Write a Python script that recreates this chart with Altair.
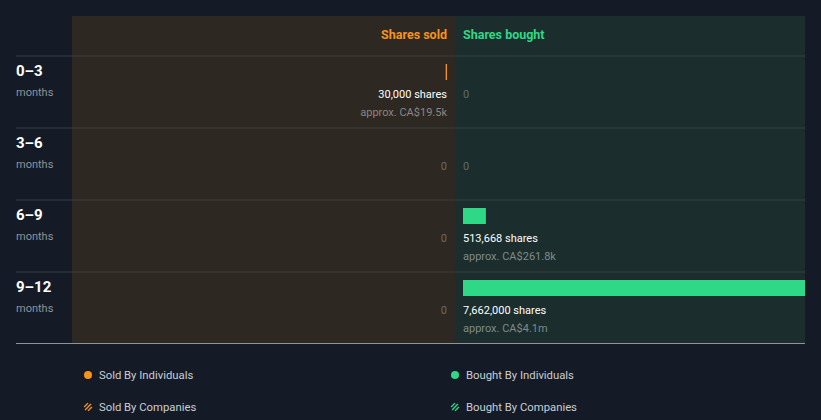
import altair as alt
import pandas as pd

periods = ["0–3", "3–6", "6–9", "9–12"]
sold_shares = [30000, 0, 0, 0]
bought_shares = [0, 0, 513668, 7662000]
sold_labels = ["30,000 shares", "", "", ""]
sold_approx = ["approx. CA$19.5k", "", "", ""]
bought_labels = ["", "", "513,668 shares", "7,662,000 shares"]
bought_approx = ["", "", "approx. CA$261.8k", "approx. CA$4.1m"]

legend_labels = ["Sold By Individuals", "Bought By Individuals", "Sold By Companies", "Bought By Companies"]
legend_side = ["sold", "bought", "sold", "bought"]
legend_kind = ["Individuals", "Individuals", "Companies", "Companies"]

ORANGE = "#f7931a"
GREEN = "#2ed886"
BG = "#151b26"
FONT = "Roboto"

df = pd.DataFrame({
    "period": periods,
    "sold": sold_shares,
    "bought": bought_shares,
    "sold_label": sold_labels,
    "sold_approx": sold_approx,
    "bought_label": bought_labels,
    "bought_approx": bought_approx,
})
leg = pd.DataFrame({"label": legend_labels, "side": legend_side, "kind": legend_kind})

MAXV = 7662000
sold_x = alt.Scale(domain=[0, MAXV], range=[447, 105])
bought_x = alt.Scale(domain=[0, MAXV], range=[463, 805])
py = alt.Scale(domain=periods, range=[56, 344], paddingInner=0, paddingOuter=0)
Y = alt.Y("period:N", scale=py, axis=None)

base = alt.Chart(df)

panel_sold = base.mark_rect(color="#2d2822").encode(
    x=alt.value(72), x2=alt.value(455), y=alt.value(16), y2=alt.value(344))
panel_bought = base.mark_rect(color="#1b2e2d").encode(
    x=alt.value(455), x2=alt.value(805), y=alt.value(16), y2=alt.value(344))

sep = base.mark_rule(color="#3a3e43", strokeWidth=1).encode(
    y=alt.Y("period:N", scale=py, axis=None, bandPosition=0),
    x=alt.value(16), x2=alt.value(805))
bottom = base.mark_rule(color="#8f949a", strokeWidth=1).encode(
    y=alt.value(343.5), x=alt.value(16), x2=alt.value(805))

head_bought = alt.Chart(pd.DataFrame({"t": ["Shares bought"]})).transform_calculate(z="0").mark_text(
    align="left", baseline="middle", font=FONT, fontSize=12.5, fontWeight="bold", color=GREEN
).encode(x=alt.X("z:Q", scale=bought_x, axis=None), y=alt.value(35), text="t:N")
head_sold = alt.Chart(pd.DataFrame({"t": ["Shares sold"]})).transform_calculate(z="0").mark_text(
    align="right", baseline="middle", font=FONT, fontSize=12.5, fontWeight="bold", color=ORANGE
).encode(x=alt.X("z:Q", scale=sold_x, axis=None), y=alt.value(35), text="t:N")

bars_sold = base.transform_filter("datum.sold > 0").mark_bar(color=ORANGE, size=16, yOffset=-20).encode(
    x=alt.X("sold:Q", scale=sold_x, axis=None), x2=alt.datum(0), y=Y)
bars_bought = base.transform_filter("datum.bought > 0").mark_bar(color=GREEN, size=16, yOffset=-20).encode(
    x=alt.X("bought:Q", scale=bought_x, axis=None), x2=alt.datum(0), y=Y)

zcalc = dict(z="0")
sold_lab = base.transform_filter("datum.sold > 0").transform_calculate(**zcalc).mark_text(
    align="right", baseline="middle", font=FONT, fontSize=11, fontWeight="normal", color="#ffffff", dy=3
).encode(x=alt.X("z:Q", scale=sold_x, axis=None), y=Y, text="sold_label:N")
sold_app = base.transform_filter("datum.sold > 0").transform_calculate(**zcalc).mark_text(
    align="right", baseline="middle", font=FONT, fontSize=11, color="#8a8784", dy=21
).encode(x=alt.X("z:Q", scale=sold_x, axis=None), y=Y, text="sold_approx:N")
sold_zero = base.transform_filter("datum.sold == 0").transform_calculate(**zcalc).mark_text(
    align="right", baseline="middle", font=FONT, fontSize=11, color="#6e6a66", dy=3
).encode(x=alt.X("z:Q", scale=sold_x, axis=None), y=Y, text="sold:Q")

bought_lab = base.transform_filter("datum.bought > 0").transform_calculate(**zcalc).mark_text(
    align="left", baseline="middle", font=FONT, fontSize=11, fontWeight="normal", color="#ffffff", dy=3
).encode(x=alt.X("z:Q", scale=bought_x, axis=None), y=Y, text="bought_label:N")
bought_app = base.transform_filter("datum.bought > 0").transform_calculate(**zcalc).mark_text(
    align="left", baseline="middle", font=FONT, fontSize=11, color="#7f8a89", dy=21
).encode(x=alt.X("z:Q", scale=bought_x, axis=None), y=Y, text="bought_approx:N")
bought_zero = base.transform_filter("datum.bought == 0").transform_calculate(**zcalc).mark_text(
    align="left", baseline="middle", font=FONT, fontSize=11, color="#5f6b6a", dy=3
).encode(x=alt.X("z:Q", scale=bought_x, axis=None), y=Y, text="bought:Q")

row_lab = base.mark_text(
    align="left", baseline="middle", font=FONT, fontSize=15, fontWeight="bold", color="#ffffff", dy=-21
).encode(x=alt.value(16), y=Y, text="period:N")
row_sub = base.transform_calculate(m="'months'").mark_text(
    align="left", baseline="middle", font=FONT, fontSize=11, color="#8d939b", dy=1
).encode(x=alt.value(16), y=Y, text="m:N")

lx = alt.X("side:N", scale=alt.Scale(domain=["sold", "bought"], range=[88, 455], padding=0), axis=None)
ly = alt.Y("kind:N", scale=alt.Scale(domain=["Individuals", "Companies"], range=[375, 407], padding=0), axis=None)
lcol = alt.Color("side:N", scale=alt.Scale(domain=["sold", "bought"], range=[ORANGE, GREEN]), legend=None)
lbase = alt.Chart(leg)
leg_dots = lbase.transform_filter("datum.kind == 'Individuals'").mark_circle(size=64, opacity=1).encode(
    x=lx, y=ly, color=lcol)
leg_hatch = lbase.transform_filter("datum.kind == 'Companies'").mark_point(
    shape="M-1,0L0,-1M-0.75,0.75L0.75,-0.75M0,1L1,0", size=60, strokeWidth=1.4, filled=False, opacity=1
).encode(x=lx, y=ly, stroke=alt.Stroke("side:N", scale=alt.Scale(domain=["sold", "bought"], range=[ORANGE, GREEN]), legend=None))
leg_text = lbase.mark_text(align="left", baseline="middle", font=FONT, fontSize=11.3, color="#c9cdd3", dx=11, dy=1).encode(
    x=lx, y=ly, text="label:N")

chart = alt.layer(
    panel_sold, panel_bought, sep, bottom, head_sold, head_bought,
    bars_sold, bars_bought, sold_lab, sold_app, sold_zero,
    bought_lab, bought_app, bought_zero, row_lab, row_sub,
    leg_dots, leg_hatch, leg_text
).resolve_scale(x="independent", y="independent", color="independent", stroke="independent").properties(
    width=821, height=420, background=BG, padding=0, autosize=alt.AutoSizeParams(type="none")
).configure_view(stroke=None)

chart.save("out.html", embed_options={"renderer": "svg", "actions": False})
